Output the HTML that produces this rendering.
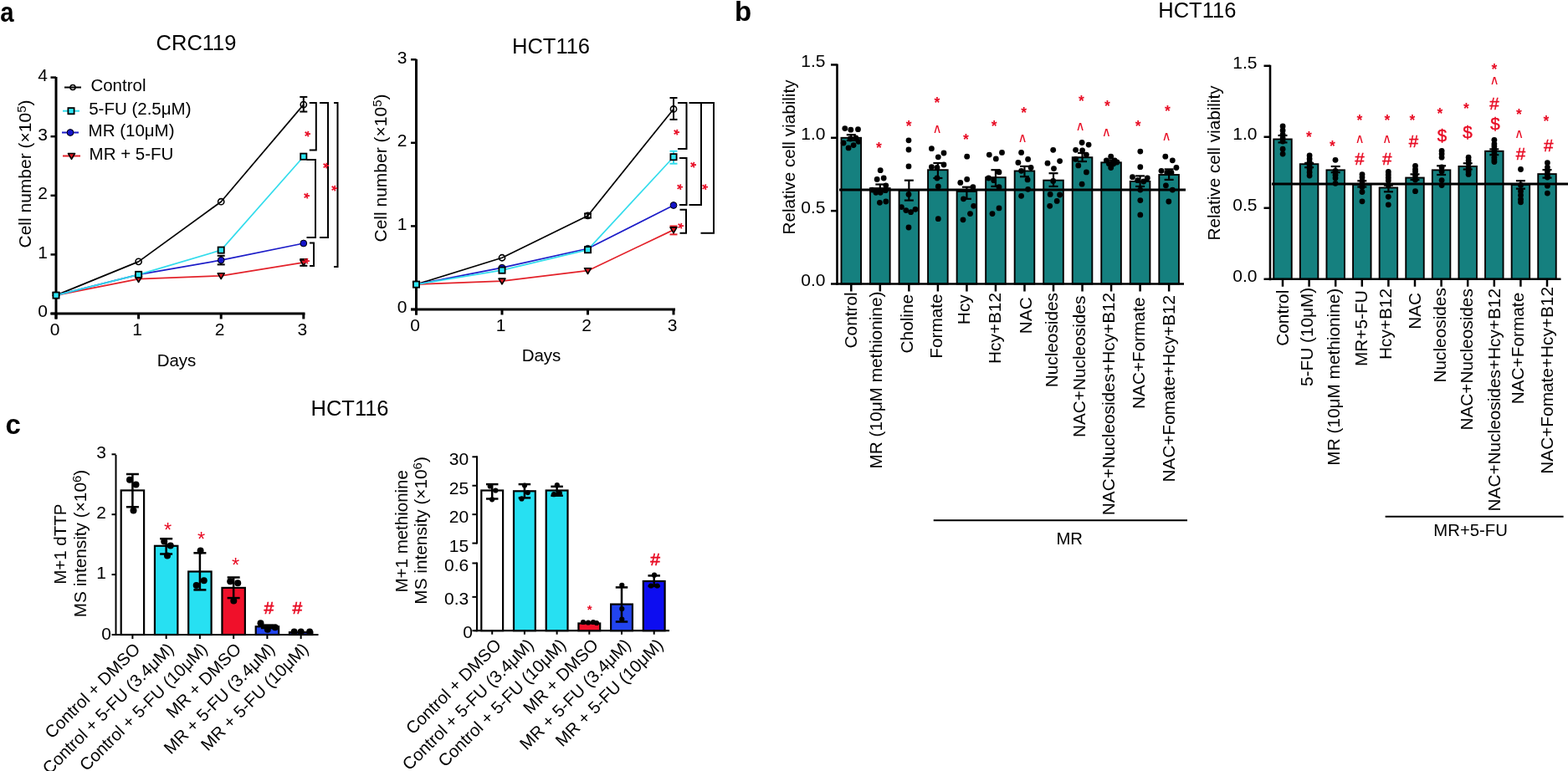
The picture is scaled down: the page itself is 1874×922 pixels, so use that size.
<!DOCTYPE html>
<html><head><meta charset="utf-8"><title>Figure</title>
<style>
html,body{margin:0;padding:0;background:#fff;}
body{width:1874px;height:922px;overflow:hidden;}
svg{display:block;}
svg text{font-family:"Liberation Sans", Arial, Helvetica, sans-serif;}
</style></head>
<body>
<svg width="1874" height="922" viewBox="0 0 1874 922">
<rect x="0" y="0" width="1874" height="922" fill="#fff"/>
<text x="0" y="0" font-size="33" font-weight="bold" transform="translate(0.2 25.6) scale(0.89 1)">a</text>
<text x="878" y="24.6" font-size="33" text-anchor="start" font-weight="bold" fill="#000">b</text>
<text x="6.5" y="519.2" font-size="33" text-anchor="start" font-weight="bold" fill="#000">c</text>
<text x="234.5" y="59.5" font-size="25.5" text-anchor="middle" font-weight="normal" fill="#000">CRC119</text>
<text x="658.5" y="64.2" font-size="25.5" text-anchor="middle" font-weight="normal" fill="#000">HCT116</text>
<text x="1430.8" y="20.5" font-size="25.5" text-anchor="middle" font-weight="normal" fill="#000">HCT116</text>
<text x="418" y="497.4" font-size="25.5" text-anchor="middle" font-weight="normal" fill="#000">HCT116</text>
<line x1="67" y1="92.1" x2="67" y2="381.5" stroke="#000" stroke-width="3" stroke-linecap="butt"/>
<line x1="60.5" y1="375" x2="364.5" y2="375" stroke="#000" stroke-width="3" stroke-linecap="butt"/>
<line x1="60.5" y1="375" x2="67" y2="375" stroke="#000" stroke-width="2.5" stroke-linecap="butt"/>
<text x="57" y="379.3" font-size="21" text-anchor="end" font-weight="normal" fill="#000">0</text>
<line x1="60.5" y1="304.4" x2="67" y2="304.4" stroke="#000" stroke-width="2.5" stroke-linecap="butt"/>
<text x="57" y="308.7" font-size="21" text-anchor="end" font-weight="normal" fill="#000">1</text>
<line x1="60.5" y1="233.8" x2="67" y2="233.8" stroke="#000" stroke-width="2.5" stroke-linecap="butt"/>
<text x="57" y="238.1" font-size="21" text-anchor="end" font-weight="normal" fill="#000">2</text>
<line x1="60.5" y1="163.2" x2="67" y2="163.2" stroke="#000" stroke-width="2.5" stroke-linecap="butt"/>
<text x="57" y="167.5" font-size="21" text-anchor="end" font-weight="normal" fill="#000">3</text>
<line x1="60.5" y1="92.6" x2="67" y2="92.6" stroke="#000" stroke-width="2.5" stroke-linecap="butt"/>
<text x="57" y="96.9" font-size="21" text-anchor="end" font-weight="normal" fill="#000">4</text>
<line x1="67" y1="375" x2="67" y2="381.5" stroke="#000" stroke-width="3" stroke-linecap="butt"/>
<text x="65.5" y="401.2" font-size="21" text-anchor="middle" font-weight="normal" fill="#000">0</text>
<line x1="165.6" y1="375" x2="165.6" y2="381.5" stroke="#000" stroke-width="3" stroke-linecap="butt"/>
<text x="164.1" y="401.2" font-size="21" text-anchor="middle" font-weight="normal" fill="#000">1</text>
<line x1="264.2" y1="375" x2="264.2" y2="381.5" stroke="#000" stroke-width="3" stroke-linecap="butt"/>
<text x="262.7" y="401.2" font-size="21" text-anchor="middle" font-weight="normal" fill="#000">2</text>
<line x1="362.8" y1="375" x2="362.8" y2="381.5" stroke="#000" stroke-width="3" stroke-linecap="butt"/>
<text x="361.3" y="401.2" font-size="21" text-anchor="middle" font-weight="normal" fill="#000">3</text>
<text x="211" y="438" font-size="20.5" text-anchor="middle" font-weight="normal" fill="#000">Days</text>
<text x="37" y="208" font-size="21" text-anchor="middle" transform="rotate(-90 37 208)">Cell number (×10<tspan font-size="15" dy="-6">5</tspan><tspan dy="6">)</tspan></text>
<polyline points="67,353.11 165.6,312.87 264.2,241.21 362.8,125.08" fill="none" stroke="#000" stroke-width="1.7" stroke-linejoin="round"/>
<polyline points="67,353.11 165.6,333.7 264.2,329.82 362.8,313.93" fill="none" stroke="#e3222a" stroke-width="1.7" stroke-linejoin="round"/>
<polyline points="67,353.11 165.6,328.4 264.2,311.11 362.8,290.99" fill="none" stroke="#1c1cc8" stroke-width="1.7" stroke-linejoin="round"/>
<polyline points="67,353.11 165.6,328.4 264.2,299.11 362.8,187.2" fill="none" stroke="#33dcec" stroke-width="1.7" stroke-linejoin="round"/>
<line x1="362.8" y1="115.9" x2="362.8" y2="133.55" stroke="#000" stroke-width="2" stroke-linecap="butt"/>
<line x1="358.3" y1="115.9" x2="367.3" y2="115.9" stroke="#000" stroke-width="2" stroke-linecap="butt"/>
<line x1="358.3" y1="133.55" x2="367.3" y2="133.55" stroke="#000" stroke-width="2" stroke-linecap="butt"/>
<line x1="264.2" y1="305.81" x2="264.2" y2="316.4" stroke="#000" stroke-width="2" stroke-linecap="butt"/>
<line x1="259.7" y1="305.81" x2="268.7" y2="305.81" stroke="#000" stroke-width="2" stroke-linecap="butt"/>
<line x1="259.7" y1="316.4" x2="268.7" y2="316.4" stroke="#000" stroke-width="2" stroke-linecap="butt"/>
<line x1="362.8" y1="310.05" x2="362.8" y2="317.81" stroke="#000" stroke-width="2" stroke-linecap="butt"/>
<line x1="358.3" y1="310.05" x2="367.3" y2="310.05" stroke="#000" stroke-width="2" stroke-linecap="butt"/>
<line x1="358.3" y1="317.81" x2="367.3" y2="317.81" stroke="#000" stroke-width="2" stroke-linecap="butt"/>
<polygon points="63,350.11 71,350.11 67,356.91" fill="#d81820" stroke="#000" stroke-width="1.6" stroke-linejoin="round"/>
<polygon points="161.6,330.7 169.6,330.7 165.6,337.5" fill="#d81820" stroke="#000" stroke-width="1.6" stroke-linejoin="round"/>
<polygon points="260.2,326.82 268.2,326.82 264.2,333.62" fill="#d81820" stroke="#000" stroke-width="1.6" stroke-linejoin="round"/>
<polygon points="358.8,310.93 366.8,310.93 362.8,317.73" fill="#d81820" stroke="#000" stroke-width="1.6" stroke-linejoin="round"/>
<circle cx="67" cy="353.11" r="3.6" fill="none" stroke="#000" stroke-width="1.6"/>
<circle cx="165.6" cy="312.87" r="3.6" fill="none" stroke="#000" stroke-width="1.6"/>
<circle cx="264.2" cy="241.21" r="3.6" fill="none" stroke="#000" stroke-width="1.6"/>
<circle cx="362.8" cy="125.08" r="3.6" fill="none" stroke="#000" stroke-width="1.6"/>
<circle cx="67" cy="353.11" r="3.9" fill="#1414c8" stroke="#000" stroke-width="1"/>
<circle cx="165.6" cy="328.4" r="3.9" fill="#1414c8" stroke="#000" stroke-width="1"/>
<circle cx="264.2" cy="311.11" r="3.9" fill="#1414c8" stroke="#000" stroke-width="1"/>
<circle cx="362.8" cy="290.99" r="3.9" fill="#1414c8" stroke="#000" stroke-width="1"/>
<rect x="63.4" y="349.51" width="7.2" height="7.2" fill="#2ee6f4" stroke="#000" stroke-width="1.8"/>
<rect x="162" y="324.8" width="7.2" height="7.2" fill="#2ee6f4" stroke="#000" stroke-width="1.8"/>
<rect x="260.6" y="295.5" width="7.2" height="7.2" fill="#2ee6f4" stroke="#000" stroke-width="1.8"/>
<rect x="359.2" y="183.6" width="7.2" height="7.2" fill="#2ee6f4" stroke="#000" stroke-width="1.8"/>
<polyline points="369.8,123 377.8,123 377.8,179.5 369.8,179.5" fill="none" stroke="#000" stroke-width="2" stroke-linejoin="miter"/>
<polyline points="366.5,191 377,191 377,284 366.5,284" fill="none" stroke="#000" stroke-width="2" stroke-linejoin="miter"/>
<polyline points="382,123 392,123 392,284 382,284" fill="none" stroke="#000" stroke-width="2" stroke-linejoin="miter"/>
<polyline points="399,123 403.5,123 403.5,319 399,319" fill="none" stroke="#000" stroke-width="2" stroke-linejoin="miter"/>
<polyline points="370,290.5 375,290.5 375,318 370,318" fill="none" stroke="#000" stroke-width="2" stroke-linejoin="miter"/>
<text x="0" y="9.29" font-size="18.5" font-weight="bold" text-anchor="middle" fill="#e80c24" transform="translate(367.5 160) rotate(90)">*</text>
<text x="0" y="9.29" font-size="18.5" font-weight="bold" text-anchor="middle" fill="#e80c24" transform="translate(366 234) rotate(90)">*</text>
<text x="0" y="9.29" font-size="18.5" font-weight="bold" text-anchor="middle" fill="#e80c24" transform="translate(389 198) rotate(90)">*</text>
<text x="0" y="9.29" font-size="18.5" font-weight="bold" text-anchor="middle" fill="#e80c24" transform="translate(399 225) rotate(90)">*</text>
<text x="0" y="9.29" font-size="18.5" font-weight="bold" text-anchor="middle" fill="#e80c24" transform="translate(366 312) rotate(90)">*</text>
<line x1="77" y1="104.5" x2="97" y2="104.5" stroke="#000" stroke-width="2" stroke-linecap="butt"/>
<circle cx="87" cy="104.5" r="3" fill="none" stroke="#000" stroke-width="1.6"/>
<text x="108.4" y="108.9" font-size="20.5" text-anchor="start" font-weight="normal" fill="#000">Control</text>
<line x1="75" y1="132.7" x2="95" y2="132.7" stroke="#33dcec" stroke-width="2" stroke-linecap="butt"/>
<rect x="81.4" y="129.1" width="7.2" height="7.2" fill="#2ee6f4" stroke="#000" stroke-width="1.8"/>
<text x="106.2" y="137.1" font-size="20.5" text-anchor="start" font-weight="normal" fill="#000">5-FU (2.5μM)</text>
<line x1="74" y1="158.5" x2="94" y2="158.5" stroke="#1c1cc8" stroke-width="2" stroke-linecap="butt"/>
<circle cx="84" cy="158.5" r="3.9" fill="#1414c8" stroke="#000" stroke-width="1"/>
<text x="105.6" y="162.9" font-size="20.5" text-anchor="start" font-weight="normal" fill="#000">MR (10μM)</text>
<line x1="75" y1="186.5" x2="96" y2="186.5" stroke="#e3222a" stroke-width="2" stroke-linecap="butt"/>
<polygon points="81.5,183.5 89.5,183.5 85.5,190.3" fill="#d81820" stroke="#000" stroke-width="1.6" stroke-linejoin="round"/>
<text x="106.6" y="190.9" font-size="20.5" text-anchor="start" font-weight="normal" fill="#000">MR + 5-FU</text>
<line x1="497.5" y1="70.7" x2="497.5" y2="376.5" stroke="#000" stroke-width="3" stroke-linecap="butt"/>
<line x1="491" y1="370" x2="807" y2="370" stroke="#000" stroke-width="3" stroke-linecap="butt"/>
<line x1="491" y1="370" x2="497.5" y2="370" stroke="#000" stroke-width="2.5" stroke-linecap="butt"/>
<text x="486.5" y="374.3" font-size="21" text-anchor="end" font-weight="normal" fill="#000">0</text>
<line x1="491" y1="270.4" x2="497.5" y2="270.4" stroke="#000" stroke-width="2.5" stroke-linecap="butt"/>
<text x="486.5" y="274.7" font-size="21" text-anchor="end" font-weight="normal" fill="#000">1</text>
<line x1="491" y1="170.8" x2="497.5" y2="170.8" stroke="#000" stroke-width="2.5" stroke-linecap="butt"/>
<text x="486.5" y="175.1" font-size="21" text-anchor="end" font-weight="normal" fill="#000">2</text>
<line x1="491" y1="71.2" x2="497.5" y2="71.2" stroke="#000" stroke-width="2.5" stroke-linecap="butt"/>
<text x="486.5" y="75.5" font-size="21" text-anchor="end" font-weight="normal" fill="#000">3</text>
<line x1="497.5" y1="370" x2="497.5" y2="376.5" stroke="#000" stroke-width="3" stroke-linecap="butt"/>
<text x="496" y="396.2" font-size="21" text-anchor="middle" font-weight="normal" fill="#000">0</text>
<line x1="600" y1="370" x2="600" y2="376.5" stroke="#000" stroke-width="3" stroke-linecap="butt"/>
<text x="598.5" y="396.2" font-size="21" text-anchor="middle" font-weight="normal" fill="#000">1</text>
<line x1="702.5" y1="370" x2="702.5" y2="376.5" stroke="#000" stroke-width="3" stroke-linecap="butt"/>
<text x="701" y="396.2" font-size="21" text-anchor="middle" font-weight="normal" fill="#000">2</text>
<line x1="805" y1="370" x2="805" y2="376.5" stroke="#000" stroke-width="3" stroke-linecap="butt"/>
<text x="803.5" y="396.2" font-size="21" text-anchor="middle" font-weight="normal" fill="#000">3</text>
<text x="647" y="432" font-size="20.5" text-anchor="middle" font-weight="normal" fill="#000">Days</text>
<text x="462.3" y="201" font-size="21" text-anchor="middle" transform="rotate(-90 462.3 201)">Cell number (×10<tspan font-size="15" dy="-6">5</tspan><tspan dy="6">)</tspan></text>
<polyline points="497.5,340.12 600,308.25 702.5,257.95 805,130.46" fill="none" stroke="#000" stroke-width="1.7" stroke-linejoin="round"/>
<polyline points="497.5,340.12 600,336.14 702.5,323.69 805,274.88" fill="none" stroke="#e3222a" stroke-width="1.7" stroke-linejoin="round"/>
<polyline points="497.5,340.12 600,320.2 702.5,297.29 805,245.5" fill="none" stroke="#1c1cc8" stroke-width="1.7" stroke-linejoin="round"/>
<polyline points="497.5,340.12 600,323.19 702.5,298.69 805,187.73" fill="none" stroke="#33dcec" stroke-width="1.7" stroke-linejoin="round"/>
<line x1="805" y1="117.02" x2="805" y2="142.91" stroke="#000" stroke-width="2" stroke-linecap="butt"/>
<line x1="800.5" y1="117.02" x2="809.5" y2="117.02" stroke="#000" stroke-width="2" stroke-linecap="butt"/>
<line x1="800.5" y1="142.91" x2="809.5" y2="142.91" stroke="#000" stroke-width="2" stroke-linecap="butt"/>
<line x1="805" y1="180.76" x2="805" y2="195.7" stroke="#33dcec" stroke-width="2" stroke-linecap="butt"/>
<line x1="800.5" y1="180.76" x2="809.5" y2="180.76" stroke="#33dcec" stroke-width="2" stroke-linecap="butt"/>
<line x1="800.5" y1="195.7" x2="809.5" y2="195.7" stroke="#33dcec" stroke-width="2" stroke-linecap="butt"/>
<line x1="805" y1="270.4" x2="805" y2="280.36" stroke="#e3222a" stroke-width="2" stroke-linecap="butt"/>
<line x1="800.5" y1="270.4" x2="809.5" y2="270.4" stroke="#e3222a" stroke-width="2" stroke-linecap="butt"/>
<line x1="800.5" y1="280.36" x2="809.5" y2="280.36" stroke="#e3222a" stroke-width="2" stroke-linecap="butt"/>
<line x1="702.5" y1="255.46" x2="702.5" y2="260.44" stroke="#000" stroke-width="2" stroke-linecap="butt"/>
<line x1="698" y1="255.46" x2="707" y2="255.46" stroke="#000" stroke-width="2" stroke-linecap="butt"/>
<line x1="698" y1="260.44" x2="707" y2="260.44" stroke="#000" stroke-width="2" stroke-linecap="butt"/>
<polygon points="493.5,337.12 501.5,337.12 497.5,343.92" fill="#d81820" stroke="#000" stroke-width="1.6" stroke-linejoin="round"/>
<polygon points="596,333.14 604,333.14 600,339.94" fill="#d81820" stroke="#000" stroke-width="1.6" stroke-linejoin="round"/>
<polygon points="698.5,320.69 706.5,320.69 702.5,327.49" fill="#d81820" stroke="#000" stroke-width="1.6" stroke-linejoin="round"/>
<polygon points="801,271.88 809,271.88 805,278.68" fill="#d81820" stroke="#000" stroke-width="1.6" stroke-linejoin="round"/>
<circle cx="497.5" cy="340.12" r="3.6" fill="none" stroke="#000" stroke-width="1.6"/>
<circle cx="600" cy="308.25" r="3.6" fill="none" stroke="#000" stroke-width="1.6"/>
<circle cx="702.5" cy="257.95" r="3.6" fill="none" stroke="#000" stroke-width="1.6"/>
<circle cx="805" cy="130.46" r="3.6" fill="none" stroke="#000" stroke-width="1.6"/>
<circle cx="497.5" cy="340.12" r="3.9" fill="#1414c8" stroke="#000" stroke-width="1"/>
<circle cx="600" cy="320.2" r="3.9" fill="#1414c8" stroke="#000" stroke-width="1"/>
<circle cx="702.5" cy="297.29" r="3.9" fill="#1414c8" stroke="#000" stroke-width="1"/>
<circle cx="805" cy="245.5" r="3.9" fill="#1414c8" stroke="#000" stroke-width="1"/>
<rect x="493.9" y="336.52" width="7.2" height="7.2" fill="#2ee6f4" stroke="#000" stroke-width="1.8"/>
<rect x="596.4" y="319.59" width="7.2" height="7.2" fill="#2ee6f4" stroke="#000" stroke-width="1.8"/>
<rect x="698.9" y="295.09" width="7.2" height="7.2" fill="#2ee6f4" stroke="#000" stroke-width="1.8"/>
<rect x="801.4" y="184.13" width="7.2" height="7.2" fill="#2ee6f4" stroke="#000" stroke-width="1.8"/>
<polyline points="810,123 820.5,123 820.5,178 810,178" fill="none" stroke="#000" stroke-width="2" stroke-linejoin="miter"/>
<polyline points="812,189 820.5,189 820.5,245 812,245" fill="none" stroke="#000" stroke-width="2" stroke-linejoin="miter"/>
<polyline points="823.5,123 838,123 838,245 823.5,245" fill="none" stroke="#000" stroke-width="2" stroke-linejoin="miter"/>
<polyline points="837.5,123 853,123 853,278.7 837.5,278.7" fill="none" stroke="#000" stroke-width="2" stroke-linejoin="miter"/>
<polyline points="812.5,250.7 820,250.7 820,278.7 812.5,278.7" fill="none" stroke="#000" stroke-width="2" stroke-linejoin="miter"/>
<text x="0" y="9.29" font-size="18.5" font-weight="bold" text-anchor="middle" fill="#e80c24" transform="translate(808.7 158) rotate(90)">*</text>
<text x="0" y="9.29" font-size="18.5" font-weight="bold" text-anchor="middle" fill="#e80c24" transform="translate(828.7 197) rotate(90)">*</text>
<text x="0" y="9.29" font-size="18.5" font-weight="bold" text-anchor="middle" fill="#e80c24" transform="translate(812.5 223.7) rotate(90)">*</text>
<text x="0" y="9.29" font-size="18.5" font-weight="bold" text-anchor="middle" fill="#e80c24" transform="translate(842.5 223.7) rotate(90)">*</text>
<text x="0" y="9.29" font-size="18.5" font-weight="bold" text-anchor="middle" fill="#e80c24" transform="translate(813 270) rotate(90)">*</text>
<rect x="1005.5" y="164.8" width="23.6" height="174.7" fill="#15807f" stroke="#000" stroke-width="1.9"/>
<rect x="1040.03" y="225.07" width="23.6" height="114.43" fill="#15807f" stroke="#000" stroke-width="1.9"/>
<rect x="1074.56" y="227.69" width="23.6" height="111.81" fill="#15807f" stroke="#000" stroke-width="1.9"/>
<rect x="1109.09" y="203.23" width="23.6" height="136.27" fill="#15807f" stroke="#000" stroke-width="1.9"/>
<rect x="1143.62" y="228.91" width="23.6" height="110.59" fill="#15807f" stroke="#000" stroke-width="1.9"/>
<rect x="1178.15" y="212.14" width="23.6" height="127.36" fill="#15807f" stroke="#000" stroke-width="1.9"/>
<rect x="1212.68" y="204.46" width="23.6" height="135.04" fill="#15807f" stroke="#000" stroke-width="1.9"/>
<rect x="1247.21" y="215.64" width="23.6" height="123.86" fill="#15807f" stroke="#000" stroke-width="1.9"/>
<rect x="1281.74" y="188.21" width="23.6" height="151.29" fill="#15807f" stroke="#000" stroke-width="1.9"/>
<rect x="1316.27" y="194.32" width="23.6" height="145.18" fill="#15807f" stroke="#000" stroke-width="1.9"/>
<rect x="1350.8" y="216.86" width="23.6" height="122.64" fill="#15807f" stroke="#000" stroke-width="1.9"/>
<rect x="1385.33" y="209" width="23.6" height="130.5" fill="#15807f" stroke="#000" stroke-width="1.9"/>
<circle cx="1009.8" cy="153.6" r="3.4" fill="#000" stroke="none" stroke-width="0"/>
<circle cx="1016.8" cy="155.2" r="3.4" fill="#000" stroke="none" stroke-width="0"/>
<circle cx="1025.5" cy="154.7" r="3.4" fill="#000" stroke="none" stroke-width="0"/>
<circle cx="1008.1" cy="171" r="3.4" fill="#000" stroke="none" stroke-width="0"/>
<circle cx="1014.1" cy="176.9" r="3.4" fill="#000" stroke="none" stroke-width="0"/>
<circle cx="1020.1" cy="173.6" r="3.4" fill="#000" stroke="none" stroke-width="0"/>
<circle cx="1026" cy="169.3" r="3.4" fill="#000" stroke="none" stroke-width="0"/>
<circle cx="1016.3" cy="166" r="3.4" fill="#000" stroke="none" stroke-width="0"/>
<circle cx="1022.8" cy="165" r="3.4" fill="#000" stroke="none" stroke-width="0"/>
<circle cx="1052.2" cy="203.7" r="3.4" fill="#000" stroke="none" stroke-width="0"/>
<circle cx="1048.2" cy="214.4" r="3.4" fill="#000" stroke="none" stroke-width="0"/>
<circle cx="1056.2" cy="213" r="3.4" fill="#000" stroke="none" stroke-width="0"/>
<circle cx="1058.8" cy="221.8" r="3.4" fill="#000" stroke="none" stroke-width="0"/>
<circle cx="1042.3" cy="227.1" r="3.4" fill="#000" stroke="none" stroke-width="0"/>
<circle cx="1046.9" cy="230.3" r="3.4" fill="#000" stroke="none" stroke-width="0"/>
<circle cx="1052.2" cy="230.3" r="3.4" fill="#000" stroke="none" stroke-width="0"/>
<circle cx="1058.3" cy="227.7" r="3.4" fill="#000" stroke="none" stroke-width="0"/>
<circle cx="1051.4" cy="242.3" r="3.4" fill="#000" stroke="none" stroke-width="0"/>
<circle cx="1058.8" cy="241" r="3.4" fill="#000" stroke="none" stroke-width="0"/>
<circle cx="1086" cy="167.8" r="3.4" fill="#000" stroke="none" stroke-width="0"/>
<circle cx="1086" cy="179" r="3.4" fill="#000" stroke="none" stroke-width="0"/>
<circle cx="1086" cy="198.9" r="3.4" fill="#000" stroke="none" stroke-width="0"/>
<circle cx="1086" cy="232.4" r="3.4" fill="#000" stroke="none" stroke-width="0"/>
<circle cx="1077.4" cy="247.6" r="3.4" fill="#000" stroke="none" stroke-width="0"/>
<circle cx="1082.8" cy="251.6" r="3.4" fill="#000" stroke="none" stroke-width="0"/>
<circle cx="1088.6" cy="253.7" r="3.4" fill="#000" stroke="none" stroke-width="0"/>
<circle cx="1094" cy="250.3" r="3.4" fill="#000" stroke="none" stroke-width="0"/>
<circle cx="1086" cy="272" r="3.4" fill="#000" stroke="none" stroke-width="0"/>
<circle cx="1113.4" cy="177.7" r="3.4" fill="#000" stroke="none" stroke-width="0"/>
<circle cx="1121.3" cy="187.8" r="3.4" fill="#000" stroke="none" stroke-width="0"/>
<circle cx="1128" cy="183" r="3.4" fill="#000" stroke="none" stroke-width="0"/>
<circle cx="1113.4" cy="199.7" r="3.4" fill="#000" stroke="none" stroke-width="0"/>
<circle cx="1120" cy="200.5" r="3.4" fill="#000" stroke="none" stroke-width="0"/>
<circle cx="1128" cy="197" r="3.4" fill="#000" stroke="none" stroke-width="0"/>
<circle cx="1120" cy="213" r="3.4" fill="#000" stroke="none" stroke-width="0"/>
<circle cx="1121.3" cy="222.9" r="3.4" fill="#000" stroke="none" stroke-width="0"/>
<circle cx="1121.3" cy="261.7" r="3.4" fill="#000" stroke="none" stroke-width="0"/>
<circle cx="1155.7" cy="187.2" r="3.4" fill="#000" stroke="none" stroke-width="0"/>
<circle cx="1147.8" cy="218.4" r="3.4" fill="#000" stroke="none" stroke-width="0"/>
<circle cx="1155.7" cy="214.4" r="3.4" fill="#000" stroke="none" stroke-width="0"/>
<circle cx="1162.9" cy="223.7" r="3.4" fill="#000" stroke="none" stroke-width="0"/>
<circle cx="1151.5" cy="237.8" r="3.4" fill="#000" stroke="none" stroke-width="0"/>
<circle cx="1163.7" cy="246.3" r="3.4" fill="#000" stroke="none" stroke-width="0"/>
<circle cx="1159.5" cy="255.6" r="3.4" fill="#000" stroke="none" stroke-width="0"/>
<circle cx="1151" cy="262.8" r="3.4" fill="#000" stroke="none" stroke-width="0"/>
<circle cx="1182.3" cy="185.1" r="3.4" fill="#000" stroke="none" stroke-width="0"/>
<circle cx="1190.3" cy="189.9" r="3.4" fill="#000" stroke="none" stroke-width="0"/>
<circle cx="1197.5" cy="182.4" r="3.4" fill="#000" stroke="none" stroke-width="0"/>
<circle cx="1194" cy="205.9" r="3.4" fill="#000" stroke="none" stroke-width="0"/>
<circle cx="1181.5" cy="213" r="3.4" fill="#000" stroke="none" stroke-width="0"/>
<circle cx="1187.7" cy="215.7" r="3.4" fill="#000" stroke="none" stroke-width="0"/>
<circle cx="1194" cy="223.7" r="3.4" fill="#000" stroke="none" stroke-width="0"/>
<circle cx="1186" cy="255.6" r="3.4" fill="#000" stroke="none" stroke-width="0"/>
<circle cx="1194" cy="248.9" r="3.4" fill="#000" stroke="none" stroke-width="0"/>
<circle cx="1220.6" cy="182.4" r="3.4" fill="#000" stroke="none" stroke-width="0"/>
<circle cx="1228.6" cy="190.4" r="3.4" fill="#000" stroke="none" stroke-width="0"/>
<circle cx="1216.9" cy="194.4" r="3.4" fill="#000" stroke="none" stroke-width="0"/>
<circle cx="1232.1" cy="200.5" r="3.4" fill="#000" stroke="none" stroke-width="0"/>
<circle cx="1220.6" cy="204.3" r="3.4" fill="#000" stroke="none" stroke-width="0"/>
<circle cx="1228.1" cy="214.9" r="3.4" fill="#000" stroke="none" stroke-width="0"/>
<circle cx="1228.6" cy="226.3" r="3.4" fill="#000" stroke="none" stroke-width="0"/>
<circle cx="1220.6" cy="234.3" r="3.4" fill="#000" stroke="none" stroke-width="0"/>
<circle cx="1258.7" cy="179.3" r="3.4" fill="#000" stroke="none" stroke-width="0"/>
<circle cx="1266.6" cy="192.6" r="3.4" fill="#000" stroke="none" stroke-width="0"/>
<circle cx="1252" cy="195.2" r="3.4" fill="#000" stroke="none" stroke-width="0"/>
<circle cx="1259.5" cy="201.6" r="3.4" fill="#000" stroke="none" stroke-width="0"/>
<circle cx="1258.7" cy="216.5" r="3.4" fill="#000" stroke="none" stroke-width="0"/>
<circle cx="1255.2" cy="232.4" r="3.4" fill="#000" stroke="none" stroke-width="0"/>
<circle cx="1266.6" cy="233" r="3.4" fill="#000" stroke="none" stroke-width="0"/>
<circle cx="1263.2" cy="240.4" r="3.4" fill="#000" stroke="none" stroke-width="0"/>
<circle cx="1254.7" cy="246.3" r="3.4" fill="#000" stroke="none" stroke-width="0"/>
<circle cx="1293.1" cy="170.5" r="3.4" fill="#000" stroke="none" stroke-width="0"/>
<circle cx="1301.1" cy="173.1" r="3.4" fill="#000" stroke="none" stroke-width="0"/>
<circle cx="1285.6" cy="179.3" r="3.4" fill="#000" stroke="none" stroke-width="0"/>
<circle cx="1293.6" cy="179.8" r="3.4" fill="#000" stroke="none" stroke-width="0"/>
<circle cx="1298.4" cy="185.1" r="3.4" fill="#000" stroke="none" stroke-width="0"/>
<circle cx="1285.6" cy="190.4" r="3.4" fill="#000" stroke="none" stroke-width="0"/>
<circle cx="1288.8" cy="197.9" r="3.4" fill="#000" stroke="none" stroke-width="0"/>
<circle cx="1298.4" cy="205.9" r="3.4" fill="#000" stroke="none" stroke-width="0"/>
<circle cx="1293.1" cy="220.2" r="3.4" fill="#000" stroke="none" stroke-width="0"/>
<circle cx="1327.7" cy="187.2" r="3.4" fill="#000" stroke="none" stroke-width="0"/>
<circle cx="1322.3" cy="191.8" r="3.4" fill="#000" stroke="none" stroke-width="0"/>
<circle cx="1332.2" cy="191.8" r="3.4" fill="#000" stroke="none" stroke-width="0"/>
<circle cx="1325.5" cy="195.7" r="3.4" fill="#000" stroke="none" stroke-width="0"/>
<circle cx="1330.5" cy="196" r="3.4" fill="#000" stroke="none" stroke-width="0"/>
<circle cx="1327.7" cy="200.5" r="3.4" fill="#000" stroke="none" stroke-width="0"/>
<circle cx="1335" cy="194" r="3.4" fill="#000" stroke="none" stroke-width="0"/>
<circle cx="1362.8" cy="181.1" r="3.4" fill="#000" stroke="none" stroke-width="0"/>
<circle cx="1362.8" cy="199.7" r="3.4" fill="#000" stroke="none" stroke-width="0"/>
<circle cx="1353.5" cy="211.7" r="3.4" fill="#000" stroke="none" stroke-width="0"/>
<circle cx="1371.3" cy="213" r="3.4" fill="#000" stroke="none" stroke-width="0"/>
<circle cx="1359.6" cy="215.7" r="3.4" fill="#000" stroke="none" stroke-width="0"/>
<circle cx="1366.8" cy="217" r="3.4" fill="#000" stroke="none" stroke-width="0"/>
<circle cx="1362.8" cy="227.1" r="3.4" fill="#000" stroke="none" stroke-width="0"/>
<circle cx="1362.8" cy="239.6" r="3.4" fill="#000" stroke="none" stroke-width="0"/>
<circle cx="1362.8" cy="256.9" r="3.4" fill="#000" stroke="none" stroke-width="0"/>
<circle cx="1392.8" cy="187.2" r="3.4" fill="#000" stroke="none" stroke-width="0"/>
<circle cx="1401.3" cy="191.8" r="3.4" fill="#000" stroke="none" stroke-width="0"/>
<circle cx="1405.9" cy="200.5" r="3.4" fill="#000" stroke="none" stroke-width="0"/>
<circle cx="1388" cy="204.3" r="3.4" fill="#000" stroke="none" stroke-width="0"/>
<circle cx="1394.7" cy="206.4" r="3.4" fill="#000" stroke="none" stroke-width="0"/>
<circle cx="1400" cy="206.4" r="3.4" fill="#000" stroke="none" stroke-width="0"/>
<circle cx="1393.4" cy="221.8" r="3.4" fill="#000" stroke="none" stroke-width="0"/>
<circle cx="1401.3" cy="227.1" r="3.4" fill="#000" stroke="none" stroke-width="0"/>
<circle cx="1396.8" cy="241" r="3.4" fill="#000" stroke="none" stroke-width="0"/>
<line x1="1017.3" y1="161.2" x2="1017.3" y2="168" stroke="#000" stroke-width="2.2" stroke-linecap="butt"/>
<line x1="1011.8" y1="161.2" x2="1022.8" y2="161.2" stroke="#000" stroke-width="2.2" stroke-linecap="butt"/>
<line x1="1011.8" y1="168" x2="1022.8" y2="168" stroke="#000" stroke-width="2.2" stroke-linecap="butt"/>
<line x1="1051.83" y1="220.5" x2="1051.83" y2="229" stroke="#000" stroke-width="2.2" stroke-linecap="butt"/>
<line x1="1046.33" y1="220.5" x2="1057.33" y2="220.5" stroke="#000" stroke-width="2.2" stroke-linecap="butt"/>
<line x1="1046.33" y1="229" x2="1057.33" y2="229" stroke="#000" stroke-width="2.2" stroke-linecap="butt"/>
<line x1="1086.36" y1="215.7" x2="1086.36" y2="239.6" stroke="#000" stroke-width="2.2" stroke-linecap="butt"/>
<line x1="1080.86" y1="215.7" x2="1091.86" y2="215.7" stroke="#000" stroke-width="2.2" stroke-linecap="butt"/>
<line x1="1080.86" y1="239.6" x2="1091.86" y2="239.6" stroke="#000" stroke-width="2.2" stroke-linecap="butt"/>
<line x1="1120.89" y1="195" x2="1120.89" y2="213" stroke="#000" stroke-width="2.2" stroke-linecap="butt"/>
<line x1="1115.39" y1="195" x2="1126.39" y2="195" stroke="#000" stroke-width="2.2" stroke-linecap="butt"/>
<line x1="1115.39" y1="213" x2="1126.39" y2="213" stroke="#000" stroke-width="2.2" stroke-linecap="butt"/>
<line x1="1155.42" y1="223.7" x2="1155.42" y2="237.8" stroke="#000" stroke-width="2.2" stroke-linecap="butt"/>
<line x1="1149.92" y1="223.7" x2="1160.92" y2="223.7" stroke="#000" stroke-width="2.2" stroke-linecap="butt"/>
<line x1="1149.92" y1="237.8" x2="1160.92" y2="237.8" stroke="#000" stroke-width="2.2" stroke-linecap="butt"/>
<line x1="1189.95" y1="203.2" x2="1189.95" y2="222.9" stroke="#000" stroke-width="2.2" stroke-linecap="butt"/>
<line x1="1184.45" y1="203.2" x2="1195.45" y2="203.2" stroke="#000" stroke-width="2.2" stroke-linecap="butt"/>
<line x1="1184.45" y1="222.9" x2="1195.45" y2="222.9" stroke="#000" stroke-width="2.2" stroke-linecap="butt"/>
<line x1="1224.48" y1="198.9" x2="1224.48" y2="211.2" stroke="#000" stroke-width="2.2" stroke-linecap="butt"/>
<line x1="1218.98" y1="198.9" x2="1229.98" y2="198.9" stroke="#000" stroke-width="2.2" stroke-linecap="butt"/>
<line x1="1218.98" y1="211.2" x2="1229.98" y2="211.2" stroke="#000" stroke-width="2.2" stroke-linecap="butt"/>
<line x1="1259.01" y1="207.2" x2="1259.01" y2="222.9" stroke="#000" stroke-width="2.2" stroke-linecap="butt"/>
<line x1="1253.51" y1="207.2" x2="1264.51" y2="207.2" stroke="#000" stroke-width="2.2" stroke-linecap="butt"/>
<line x1="1253.51" y1="222.9" x2="1264.51" y2="222.9" stroke="#000" stroke-width="2.2" stroke-linecap="butt"/>
<line x1="1293.54" y1="183" x2="1293.54" y2="193.1" stroke="#000" stroke-width="2.2" stroke-linecap="butt"/>
<line x1="1288.04" y1="183" x2="1299.04" y2="183" stroke="#000" stroke-width="2.2" stroke-linecap="butt"/>
<line x1="1288.04" y1="193.1" x2="1299.04" y2="193.1" stroke="#000" stroke-width="2.2" stroke-linecap="butt"/>
<line x1="1328.07" y1="191.5" x2="1328.07" y2="197" stroke="#000" stroke-width="2.2" stroke-linecap="butt"/>
<line x1="1322.57" y1="191.5" x2="1333.57" y2="191.5" stroke="#000" stroke-width="2.2" stroke-linecap="butt"/>
<line x1="1322.57" y1="197" x2="1333.57" y2="197" stroke="#000" stroke-width="2.2" stroke-linecap="butt"/>
<line x1="1362.6" y1="210.4" x2="1362.6" y2="222.9" stroke="#000" stroke-width="2.2" stroke-linecap="butt"/>
<line x1="1357.1" y1="210.4" x2="1368.1" y2="210.4" stroke="#000" stroke-width="2.2" stroke-linecap="butt"/>
<line x1="1357.1" y1="222.9" x2="1368.1" y2="222.9" stroke="#000" stroke-width="2.2" stroke-linecap="butt"/>
<line x1="1397.13" y1="202.4" x2="1397.13" y2="214.9" stroke="#000" stroke-width="2.2" stroke-linecap="butt"/>
<line x1="1391.63" y1="202.4" x2="1402.63" y2="202.4" stroke="#000" stroke-width="2.2" stroke-linecap="butt"/>
<line x1="1391.63" y1="214.9" x2="1402.63" y2="214.9" stroke="#000" stroke-width="2.2" stroke-linecap="butt"/>
<line x1="1003" y1="227" x2="1417" y2="227" stroke="#000" stroke-width="3" stroke-linecap="butt"/>
<line x1="1000.5" y1="76.45" x2="1000.5" y2="341" stroke="#000" stroke-width="2.6" stroke-linecap="butt"/>
<line x1="999.2" y1="339.5" x2="1415" y2="339.5" stroke="#000" stroke-width="2.4" stroke-linecap="butt"/>
<line x1="993" y1="339.5" x2="1000.5" y2="339.5" stroke="#000" stroke-width="2.5" stroke-linecap="butt"/>
<text x="986.5" y="342.1" font-size="21" text-anchor="end" font-weight="normal" fill="#000">0.0</text>
<line x1="993" y1="252.15" x2="1000.5" y2="252.15" stroke="#000" stroke-width="2.5" stroke-linecap="butt"/>
<text x="986.5" y="254.75" font-size="21" text-anchor="end" font-weight="normal" fill="#000">0.5</text>
<line x1="993" y1="164.8" x2="1000.5" y2="164.8" stroke="#000" stroke-width="2.5" stroke-linecap="butt"/>
<text x="986.5" y="167.4" font-size="21" text-anchor="end" font-weight="normal" fill="#000">1.0</text>
<line x1="993" y1="77.45" x2="1000.5" y2="77.45" stroke="#000" stroke-width="2.5" stroke-linecap="butt"/>
<text x="986.5" y="80.05" font-size="21" text-anchor="end" font-weight="normal" fill="#000">1.5</text>
<line x1="1017.3" y1="339.5" x2="1017.3" y2="348.5" stroke="#000" stroke-width="2.5" stroke-linecap="butt"/>
<text x="1023.7" y="349.4" font-size="20.8" text-anchor="end" transform="rotate(-90 1023.7 349.4)">Control</text>
<line x1="1051.83" y1="339.5" x2="1051.83" y2="348.5" stroke="#000" stroke-width="2.5" stroke-linecap="butt"/>
<text x="1054.5" y="348.6" font-size="20.8" text-anchor="end" transform="rotate(-90 1054.5 348.6)">MR (10μM methionine)</text>
<line x1="1086.36" y1="339.5" x2="1086.36" y2="348.5" stroke="#000" stroke-width="2.5" stroke-linecap="butt"/>
<text x="1091.5" y="351.9" font-size="20.8" text-anchor="end" transform="rotate(-90 1091.5 351.9)">Choline</text>
<line x1="1120.89" y1="339.5" x2="1120.89" y2="348.5" stroke="#000" stroke-width="2.5" stroke-linecap="butt"/>
<text x="1126.2" y="351.3" font-size="20.8" text-anchor="end" transform="rotate(-90 1126.2 351.3)">Formate</text>
<line x1="1155.42" y1="339.5" x2="1155.42" y2="348.5" stroke="#000" stroke-width="2.5" stroke-linecap="butt"/>
<text x="1158.7" y="352.3" font-size="20.8" text-anchor="end" transform="rotate(-90 1158.7 352.3)">Hcy</text>
<line x1="1189.95" y1="339.5" x2="1189.95" y2="348.5" stroke="#000" stroke-width="2.5" stroke-linecap="butt"/>
<text x="1195.7" y="350" font-size="20.8" text-anchor="end" transform="rotate(-90 1195.7 350)">Hcy+B12</text>
<line x1="1224.48" y1="339.5" x2="1224.48" y2="348.5" stroke="#000" stroke-width="2.5" stroke-linecap="butt"/>
<text x="1233.2" y="355.2" font-size="20.8" text-anchor="end" transform="rotate(-90 1233.2 355.2)">NAC</text>
<line x1="1259.01" y1="339.5" x2="1259.01" y2="348.5" stroke="#000" stroke-width="2.5" stroke-linecap="butt"/>
<text x="1264" y="350" font-size="20.8" text-anchor="end" transform="rotate(-90 1264 350)">Nucleosides</text>
<line x1="1293.54" y1="339.5" x2="1293.54" y2="348.5" stroke="#000" stroke-width="2.5" stroke-linecap="butt"/>
<text x="1297" y="353.7" font-size="20.8" text-anchor="end" transform="rotate(-90 1297 353.7)">NAC+Nucleosides</text>
<line x1="1328.07" y1="339.5" x2="1328.07" y2="348.5" stroke="#000" stroke-width="2.5" stroke-linecap="butt"/>
<text x="1332.1" y="349.8" font-size="20.8" text-anchor="end" transform="rotate(-90 1332.1 349.8)">NAC+Nucleosides+Hcy+B12</text>
<line x1="1362.6" y1="339.5" x2="1362.6" y2="348.5" stroke="#000" stroke-width="2.5" stroke-linecap="butt"/>
<text x="1367.6" y="355.5" font-size="20.8" text-anchor="end" transform="rotate(-90 1367.6 355.5)">NAC+Formate</text>
<line x1="1397.13" y1="339.5" x2="1397.13" y2="348.5" stroke="#000" stroke-width="2.5" stroke-linecap="butt"/>
<text x="1404.1" y="352.8" font-size="20.8" text-anchor="end" transform="rotate(-90 1404.1 352.8)">NAC+Fomate+Hcy+B12</text>
<text x="950" y="188" font-size="20.7" text-anchor="middle" transform="rotate(-90 950 188)">Relative cell viability</text>
<text x="0" y="8.79" font-size="17.5" font-weight="bold" text-anchor="middle" fill="#e80c24" transform="translate(1050.3 174) rotate(0)">*</text>
<text x="0" y="8.79" font-size="17.5" font-weight="bold" text-anchor="middle" fill="#e80c24" transform="translate(1086.2 147.9) rotate(0)">*</text>
<text x="0" y="8.79" font-size="17.5" font-weight="bold" text-anchor="middle" fill="#e80c24" transform="translate(1120 120) rotate(0)">*</text>
<text x="0" y="0" font-size="17" font-weight="bold" text-anchor="middle" fill="#e80c24" transform="translate(1120 154.5) scale(0.78 1.15) translate(0 7.98)">^</text>
<text x="0" y="8.79" font-size="17.5" font-weight="bold" text-anchor="middle" fill="#e80c24" transform="translate(1154.4 164.6) rotate(0)">*</text>
<text x="0" y="8.79" font-size="17.5" font-weight="bold" text-anchor="middle" fill="#e80c24" transform="translate(1188.2 147.9) rotate(0)">*</text>
<text x="0" y="8.79" font-size="17.5" font-weight="bold" text-anchor="middle" fill="#e80c24" transform="translate(1223.6 131.9) rotate(0)">*</text>
<text x="0" y="0" font-size="17" font-weight="bold" text-anchor="middle" fill="#e80c24" transform="translate(1222.2 166) scale(0.78 1.15) translate(0 7.98)">^</text>
<text x="0" y="8.79" font-size="17.5" font-weight="bold" text-anchor="middle" fill="#e80c24" transform="translate(1292.3 118.1) rotate(0)">*</text>
<text x="0" y="0" font-size="17" font-weight="bold" text-anchor="middle" fill="#e80c24" transform="translate(1291 151.9) scale(0.78 1.15) translate(0 7.98)">^</text>
<text x="0" y="8.79" font-size="17.5" font-weight="bold" text-anchor="middle" fill="#e80c24" transform="translate(1323.4 123.9) rotate(0)">*</text>
<text x="0" y="0" font-size="17" font-weight="bold" text-anchor="middle" fill="#e80c24" transform="translate(1322.3 159) scale(0.78 1.15) translate(0 7.98)">^</text>
<text x="0" y="8.79" font-size="17.5" font-weight="bold" text-anchor="middle" fill="#e80c24" transform="translate(1360.1 147.9) rotate(0)">*</text>
<text x="0" y="8.79" font-size="17.5" font-weight="bold" text-anchor="middle" fill="#e80c24" transform="translate(1395.5 129.8) rotate(0)">*</text>
<text x="0" y="0" font-size="17" font-weight="bold" text-anchor="middle" fill="#e80c24" transform="translate(1394.1 163.8) scale(0.78 1.15) translate(0 7.98)">^</text>
<rect x="1522.25" y="166.47" width="21.5" height="167.28" fill="#15807f" stroke="#000" stroke-width="1.9"/>
<rect x="1553.85" y="196.22" width="21.5" height="137.53" fill="#15807f" stroke="#000" stroke-width="1.9"/>
<rect x="1585.45" y="203.36" width="21.5" height="130.39" fill="#15807f" stroke="#000" stroke-width="1.9"/>
<rect x="1617.05" y="220.7" width="21.5" height="113.05" fill="#15807f" stroke="#000" stroke-width="1.9"/>
<rect x="1648.65" y="224.44" width="21.5" height="109.31" fill="#15807f" stroke="#000" stroke-width="1.9"/>
<rect x="1680.25" y="212.54" width="21.5" height="121.21" fill="#15807f" stroke="#000" stroke-width="1.9"/>
<rect x="1711.85" y="203.36" width="21.5" height="130.39" fill="#15807f" stroke="#000" stroke-width="1.9"/>
<rect x="1743.45" y="198.94" width="21.5" height="134.81" fill="#15807f" stroke="#000" stroke-width="1.9"/>
<rect x="1775.05" y="180.75" width="21.5" height="153" fill="#15807f" stroke="#000" stroke-width="1.9"/>
<rect x="1806.65" y="220.87" width="21.5" height="112.88" fill="#15807f" stroke="#000" stroke-width="1.9"/>
<rect x="1838.25" y="208.12" width="21.5" height="125.63" fill="#15807f" stroke="#000" stroke-width="1.9"/>
<circle cx="1533.1" cy="151" r="3.4" fill="#000" stroke="none" stroke-width="0"/>
<circle cx="1533.1" cy="156" r="3.4" fill="#000" stroke="none" stroke-width="0"/>
<circle cx="1533.1" cy="161" r="3.4" fill="#000" stroke="none" stroke-width="0"/>
<circle cx="1533.1" cy="165" r="3.4" fill="#000" stroke="none" stroke-width="0"/>
<circle cx="1533.1" cy="169" r="3.4" fill="#000" stroke="none" stroke-width="0"/>
<circle cx="1533.1" cy="178.2" r="3.4" fill="#000" stroke="none" stroke-width="0"/>
<circle cx="1533.1" cy="184.1" r="3.4" fill="#000" stroke="none" stroke-width="0"/>
<circle cx="1565.1" cy="186" r="3.4" fill="#000" stroke="none" stroke-width="0"/>
<circle cx="1565.1" cy="190" r="3.4" fill="#000" stroke="none" stroke-width="0"/>
<circle cx="1565.1" cy="194" r="3.4" fill="#000" stroke="none" stroke-width="0"/>
<circle cx="1565.1" cy="198" r="3.4" fill="#000" stroke="none" stroke-width="0"/>
<circle cx="1565.1" cy="202" r="3.4" fill="#000" stroke="none" stroke-width="0"/>
<circle cx="1565.1" cy="206" r="3.4" fill="#000" stroke="none" stroke-width="0"/>
<circle cx="1565.1" cy="210" r="3.4" fill="#000" stroke="none" stroke-width="0"/>
<circle cx="1596" cy="191.3" r="3.4" fill="#000" stroke="none" stroke-width="0"/>
<circle cx="1596" cy="204.4" r="3.4" fill="#000" stroke="none" stroke-width="0"/>
<circle cx="1596" cy="209.2" r="3.4" fill="#000" stroke="none" stroke-width="0"/>
<circle cx="1596" cy="213" r="3.4" fill="#000" stroke="none" stroke-width="0"/>
<circle cx="1596" cy="219.3" r="3.4" fill="#000" stroke="none" stroke-width="0"/>
<circle cx="1628" cy="208.6" r="3.4" fill="#000" stroke="none" stroke-width="0"/>
<circle cx="1628" cy="212" r="3.4" fill="#000" stroke="none" stroke-width="0"/>
<circle cx="1628" cy="216.3" r="3.4" fill="#000" stroke="none" stroke-width="0"/>
<circle cx="1628" cy="220" r="3.4" fill="#000" stroke="none" stroke-width="0"/>
<circle cx="1628" cy="223.5" r="3.4" fill="#000" stroke="none" stroke-width="0"/>
<circle cx="1628" cy="229.5" r="3.4" fill="#000" stroke="none" stroke-width="0"/>
<circle cx="1628" cy="240.8" r="3.4" fill="#000" stroke="none" stroke-width="0"/>
<circle cx="1659.3" cy="205.5" r="3.4" fill="#000" stroke="none" stroke-width="0"/>
<circle cx="1659.3" cy="209" r="3.4" fill="#000" stroke="none" stroke-width="0"/>
<circle cx="1659.3" cy="212.5" r="3.4" fill="#000" stroke="none" stroke-width="0"/>
<circle cx="1659.3" cy="216" r="3.4" fill="#000" stroke="none" stroke-width="0"/>
<circle cx="1659.3" cy="221.5" r="3.4" fill="#000" stroke="none" stroke-width="0"/>
<circle cx="1659.3" cy="235.3" r="3.4" fill="#000" stroke="none" stroke-width="0"/>
<circle cx="1659.3" cy="244.8" r="3.4" fill="#000" stroke="none" stroke-width="0"/>
<circle cx="1691.5" cy="198.3" r="3.4" fill="#000" stroke="none" stroke-width="0"/>
<circle cx="1691.5" cy="202.5" r="3.4" fill="#000" stroke="none" stroke-width="0"/>
<circle cx="1691.5" cy="205.5" r="3.4" fill="#000" stroke="none" stroke-width="0"/>
<circle cx="1691.5" cy="210" r="3.4" fill="#000" stroke="none" stroke-width="0"/>
<circle cx="1691.5" cy="215" r="3.4" fill="#000" stroke="none" stroke-width="0"/>
<circle cx="1691.5" cy="228.7" r="3.4" fill="#000" stroke="none" stroke-width="0"/>
<circle cx="1723.1" cy="180.4" r="3.4" fill="#000" stroke="none" stroke-width="0"/>
<circle cx="1723.1" cy="184" r="3.4" fill="#000" stroke="none" stroke-width="0"/>
<circle cx="1723.1" cy="188.2" r="3.4" fill="#000" stroke="none" stroke-width="0"/>
<circle cx="1723.1" cy="200" r="3.4" fill="#000" stroke="none" stroke-width="0"/>
<circle cx="1723.1" cy="205" r="3.4" fill="#000" stroke="none" stroke-width="0"/>
<circle cx="1723.1" cy="215.6" r="3.4" fill="#000" stroke="none" stroke-width="0"/>
<circle cx="1723.1" cy="221.6" r="3.4" fill="#000" stroke="none" stroke-width="0"/>
<circle cx="1755.1" cy="188.2" r="3.4" fill="#000" stroke="none" stroke-width="0"/>
<circle cx="1755.1" cy="192" r="3.4" fill="#000" stroke="none" stroke-width="0"/>
<circle cx="1755.1" cy="195.3" r="3.4" fill="#000" stroke="none" stroke-width="0"/>
<circle cx="1755.1" cy="200.1" r="3.4" fill="#000" stroke="none" stroke-width="0"/>
<circle cx="1755.1" cy="204.9" r="3.4" fill="#000" stroke="none" stroke-width="0"/>
<circle cx="1755.1" cy="208.4" r="3.4" fill="#000" stroke="none" stroke-width="0"/>
<circle cx="1785.9" cy="167.3" r="3.4" fill="#000" stroke="none" stroke-width="0"/>
<circle cx="1785.9" cy="172.1" r="3.4" fill="#000" stroke="none" stroke-width="0"/>
<circle cx="1785.9" cy="175" r="3.4" fill="#000" stroke="none" stroke-width="0"/>
<circle cx="1785.9" cy="178.4" r="3.4" fill="#000" stroke="none" stroke-width="0"/>
<circle cx="1785.9" cy="183" r="3.4" fill="#000" stroke="none" stroke-width="0"/>
<circle cx="1785.9" cy="188.2" r="3.4" fill="#000" stroke="none" stroke-width="0"/>
<circle cx="1785.9" cy="191.1" r="3.4" fill="#000" stroke="none" stroke-width="0"/>
<circle cx="1785.9" cy="193.5" r="3.4" fill="#000" stroke="none" stroke-width="0"/>
<circle cx="1817.5" cy="202.5" r="3.4" fill="#000" stroke="none" stroke-width="0"/>
<circle cx="1817.5" cy="221.5" r="3.4" fill="#000" stroke="none" stroke-width="0"/>
<circle cx="1817.5" cy="228.7" r="3.4" fill="#000" stroke="none" stroke-width="0"/>
<circle cx="1817.5" cy="233.5" r="3.4" fill="#000" stroke="none" stroke-width="0"/>
<circle cx="1817.5" cy="238.3" r="3.4" fill="#000" stroke="none" stroke-width="0"/>
<circle cx="1817.5" cy="241.8" r="3.4" fill="#000" stroke="none" stroke-width="0"/>
<circle cx="1849.4" cy="194.7" r="3.4" fill="#000" stroke="none" stroke-width="0"/>
<circle cx="1849.4" cy="200.1" r="3.4" fill="#000" stroke="none" stroke-width="0"/>
<circle cx="1849.4" cy="205" r="3.4" fill="#000" stroke="none" stroke-width="0"/>
<circle cx="1849.4" cy="209" r="3.4" fill="#000" stroke="none" stroke-width="0"/>
<circle cx="1849.4" cy="212" r="3.4" fill="#000" stroke="none" stroke-width="0"/>
<circle cx="1849.4" cy="222.2" r="3.4" fill="#000" stroke="none" stroke-width="0"/>
<circle cx="1849.4" cy="231.1" r="3.4" fill="#000" stroke="none" stroke-width="0"/>
<line x1="1533" y1="162" x2="1533" y2="170.4" stroke="#000" stroke-width="2.2" stroke-linecap="butt"/>
<line x1="1527.5" y1="162" x2="1538.5" y2="162" stroke="#000" stroke-width="2.2" stroke-linecap="butt"/>
<line x1="1527.5" y1="170.4" x2="1538.5" y2="170.4" stroke="#000" stroke-width="2.2" stroke-linecap="butt"/>
<line x1="1564.6" y1="194.9" x2="1564.6" y2="200.2" stroke="#000" stroke-width="2.2" stroke-linecap="butt"/>
<line x1="1559.1" y1="194.9" x2="1570.1" y2="194.9" stroke="#000" stroke-width="2.2" stroke-linecap="butt"/>
<line x1="1559.1" y1="200.2" x2="1570.1" y2="200.2" stroke="#000" stroke-width="2.2" stroke-linecap="butt"/>
<line x1="1596.2" y1="199" x2="1596.2" y2="206.2" stroke="#000" stroke-width="2.2" stroke-linecap="butt"/>
<line x1="1590.7" y1="199" x2="1601.7" y2="199" stroke="#000" stroke-width="2.2" stroke-linecap="butt"/>
<line x1="1590.7" y1="206.2" x2="1601.7" y2="206.2" stroke="#000" stroke-width="2.2" stroke-linecap="butt"/>
<line x1="1627.8" y1="216.3" x2="1627.8" y2="223.5" stroke="#000" stroke-width="2.2" stroke-linecap="butt"/>
<line x1="1622.3" y1="216.3" x2="1633.3" y2="216.3" stroke="#000" stroke-width="2.2" stroke-linecap="butt"/>
<line x1="1622.3" y1="223.5" x2="1633.3" y2="223.5" stroke="#000" stroke-width="2.2" stroke-linecap="butt"/>
<line x1="1659.4" y1="221.6" x2="1659.4" y2="229.3" stroke="#000" stroke-width="2.2" stroke-linecap="butt"/>
<line x1="1653.9" y1="221.6" x2="1664.9" y2="221.6" stroke="#000" stroke-width="2.2" stroke-linecap="butt"/>
<line x1="1653.9" y1="229.3" x2="1664.9" y2="229.3" stroke="#000" stroke-width="2.2" stroke-linecap="butt"/>
<line x1="1691" y1="208.4" x2="1691" y2="215" stroke="#000" stroke-width="2.2" stroke-linecap="butt"/>
<line x1="1685.5" y1="208.4" x2="1696.5" y2="208.4" stroke="#000" stroke-width="2.2" stroke-linecap="butt"/>
<line x1="1685.5" y1="215" x2="1696.5" y2="215" stroke="#000" stroke-width="2.2" stroke-linecap="butt"/>
<line x1="1722.6" y1="198.3" x2="1722.6" y2="209" stroke="#000" stroke-width="2.2" stroke-linecap="butt"/>
<line x1="1717.1" y1="198.3" x2="1728.1" y2="198.3" stroke="#000" stroke-width="2.2" stroke-linecap="butt"/>
<line x1="1717.1" y1="209" x2="1728.1" y2="209" stroke="#000" stroke-width="2.2" stroke-linecap="butt"/>
<line x1="1754.2" y1="195.3" x2="1754.2" y2="202.5" stroke="#000" stroke-width="2.2" stroke-linecap="butt"/>
<line x1="1748.7" y1="195.3" x2="1759.7" y2="195.3" stroke="#000" stroke-width="2.2" stroke-linecap="butt"/>
<line x1="1748.7" y1="202.5" x2="1759.7" y2="202.5" stroke="#000" stroke-width="2.2" stroke-linecap="butt"/>
<line x1="1785.8" y1="178.4" x2="1785.8" y2="185.2" stroke="#000" stroke-width="2.2" stroke-linecap="butt"/>
<line x1="1780.3" y1="178.4" x2="1791.3" y2="178.4" stroke="#000" stroke-width="2.2" stroke-linecap="butt"/>
<line x1="1780.3" y1="185.2" x2="1791.3" y2="185.2" stroke="#000" stroke-width="2.2" stroke-linecap="butt"/>
<line x1="1817.4" y1="216.2" x2="1817.4" y2="225.7" stroke="#000" stroke-width="2.2" stroke-linecap="butt"/>
<line x1="1811.9" y1="216.2" x2="1822.9" y2="216.2" stroke="#000" stroke-width="2.2" stroke-linecap="butt"/>
<line x1="1811.9" y1="225.7" x2="1822.9" y2="225.7" stroke="#000" stroke-width="2.2" stroke-linecap="butt"/>
<line x1="1849" y1="203.1" x2="1849" y2="212.6" stroke="#000" stroke-width="2.2" stroke-linecap="butt"/>
<line x1="1843.5" y1="203.1" x2="1854.5" y2="203.1" stroke="#000" stroke-width="2.2" stroke-linecap="butt"/>
<line x1="1843.5" y1="212.6" x2="1854.5" y2="212.6" stroke="#000" stroke-width="2.2" stroke-linecap="butt"/>
<line x1="1520" y1="220" x2="1874" y2="220" stroke="#000" stroke-width="3" stroke-linecap="butt"/>
<line x1="1518" y1="77.75" x2="1518" y2="335.25" stroke="#000" stroke-width="2.6" stroke-linecap="butt"/>
<line x1="1516.7" y1="333.75" x2="1865.5" y2="333.75" stroke="#000" stroke-width="2.4" stroke-linecap="butt"/>
<line x1="1510.5" y1="333.75" x2="1518" y2="333.75" stroke="#000" stroke-width="2.5" stroke-linecap="butt"/>
<text x="1502.5" y="337.15" font-size="21" text-anchor="end" font-weight="normal" fill="#000">0.0</text>
<line x1="1510.5" y1="248.75" x2="1518" y2="248.75" stroke="#000" stroke-width="2.5" stroke-linecap="butt"/>
<text x="1502.5" y="252.15" font-size="21" text-anchor="end" font-weight="normal" fill="#000">0.5</text>
<line x1="1510.5" y1="163.75" x2="1518" y2="163.75" stroke="#000" stroke-width="2.5" stroke-linecap="butt"/>
<text x="1502.5" y="167.15" font-size="21" text-anchor="end" font-weight="normal" fill="#000">1.0</text>
<line x1="1510.5" y1="78.75" x2="1518" y2="78.75" stroke="#000" stroke-width="2.5" stroke-linecap="butt"/>
<text x="1502.5" y="82.15" font-size="21" text-anchor="end" font-weight="normal" fill="#000">1.5</text>
<line x1="1533" y1="333.75" x2="1533" y2="342.75" stroke="#000" stroke-width="2.5" stroke-linecap="butt"/>
<text x="1540.5" y="346.7" font-size="20.8" text-anchor="end" transform="rotate(-90 1540.5 346.7)">Control</text>
<line x1="1564.6" y1="333.75" x2="1564.6" y2="342.75" stroke="#000" stroke-width="2.5" stroke-linecap="butt"/>
<text x="1569.3" y="343.7" font-size="20.8" text-anchor="end" transform="rotate(-90 1569.3 343.7)">5-FU (10μM)</text>
<line x1="1596.2" y1="333.75" x2="1596.2" y2="342.75" stroke="#000" stroke-width="2.5" stroke-linecap="butt"/>
<text x="1600.8" y="344.7" font-size="20.8" text-anchor="end" transform="rotate(-90 1600.8 344.7)">MR (10μM methionine)</text>
<line x1="1627.8" y1="333.75" x2="1627.8" y2="342.75" stroke="#000" stroke-width="2.5" stroke-linecap="butt"/>
<text x="1634.2" y="347.3" font-size="20.8" text-anchor="end" transform="rotate(-90 1634.2 347.3)">MR+5-FU</text>
<line x1="1659.4" y1="333.75" x2="1659.4" y2="342.75" stroke="#000" stroke-width="2.5" stroke-linecap="butt"/>
<text x="1663.1" y="345" font-size="20.8" text-anchor="end" transform="rotate(-90 1663.1 345)">Hcy+B12</text>
<line x1="1691" y1="333.75" x2="1691" y2="342.75" stroke="#000" stroke-width="2.5" stroke-linecap="butt"/>
<text x="1698.1" y="349.9" font-size="20.8" text-anchor="end" transform="rotate(-90 1698.1 349.9)">NAC</text>
<line x1="1722.6" y1="333.75" x2="1722.6" y2="342.75" stroke="#000" stroke-width="2.5" stroke-linecap="butt"/>
<text x="1728.4" y="344.2" font-size="20.8" text-anchor="end" transform="rotate(-90 1728.4 344.2)">Nucleosides</text>
<line x1="1754.2" y1="333.75" x2="1754.2" y2="342.75" stroke="#000" stroke-width="2.5" stroke-linecap="butt"/>
<text x="1760.4" y="345.2" font-size="20.8" text-anchor="end" transform="rotate(-90 1760.4 345.2)">NAC+Nucleosides</text>
<line x1="1785.8" y1="333.75" x2="1785.8" y2="342.75" stroke="#000" stroke-width="2.5" stroke-linecap="butt"/>
<text x="1792.6" y="345" font-size="20.8" text-anchor="end" transform="rotate(-90 1792.6 345)">NAC+Nucleosides+Hcy+B12</text>
<line x1="1817.4" y1="333.75" x2="1817.4" y2="342.75" stroke="#000" stroke-width="2.5" stroke-linecap="butt"/>
<text x="1820.8" y="349.8" font-size="20.8" text-anchor="end" transform="rotate(-90 1820.8 349.8)">NAC+Formate</text>
<line x1="1849" y1="333.75" x2="1849" y2="342.75" stroke="#000" stroke-width="2.5" stroke-linecap="butt"/>
<text x="1855.9" y="343" font-size="20.8" text-anchor="end" transform="rotate(-90 1855.9 343)">NAC+Fomate+Hcy+B12</text>
<text x="1457.5" y="195" font-size="20.7" text-anchor="middle" transform="rotate(-90 1457.5 195)">Relative cell viability</text>
<text x="0" y="8.79" font-size="17.5" font-weight="bold" text-anchor="middle" fill="#e80c24" transform="translate(1564.4 161) rotate(0)">*</text>
<text x="0" y="8.79" font-size="17.5" font-weight="bold" text-anchor="middle" fill="#e80c24" transform="translate(1592.5 172.7) rotate(0)">*</text>
<text x="0" y="8.79" font-size="17.5" font-weight="bold" text-anchor="middle" fill="#e80c24" transform="translate(1625 141) rotate(0)">*</text>
<text x="0" y="0" font-size="17" font-weight="bold" text-anchor="middle" fill="#e80c24" transform="translate(1625 166.5) scale(0.78 1.15) translate(0 7.98)">^</text>
<text x="1625" y="197.41" font-size="20.5" text-anchor="middle" font-weight="normal" fill="#e80c24" stroke="#e80c24" stroke-width="0.45">#</text>
<text x="0" y="8.79" font-size="17.5" font-weight="bold" text-anchor="middle" fill="#e80c24" transform="translate(1658 141.4) rotate(0)">*</text>
<text x="0" y="0" font-size="17" font-weight="bold" text-anchor="middle" fill="#e80c24" transform="translate(1657.7 167.3) scale(0.78 1.15) translate(0 7.98)">^</text>
<text x="1657.7" y="197.01" font-size="20.5" text-anchor="middle" font-weight="normal" fill="#e80c24" stroke="#e80c24" stroke-width="0.45">#</text>
<text x="0" y="8.79" font-size="17.5" font-weight="bold" text-anchor="middle" fill="#e80c24" transform="translate(1688 141.4) rotate(0)">*</text>
<text x="1689.5" y="176.11" font-size="20.5" text-anchor="middle" font-weight="normal" fill="#e80c24" stroke="#e80c24" stroke-width="0.45">#</text>
<text x="0" y="8.79" font-size="17.5" font-weight="bold" text-anchor="middle" fill="#e80c24" transform="translate(1721 132.9) rotate(0)">*</text>
<text x="1723.5" y="169.38" font-size="20.5" text-anchor="middle" font-weight="normal" fill="#e80c24" stroke="#e80c24" stroke-width="0.45">$</text>
<text x="0" y="8.79" font-size="17.5" font-weight="bold" text-anchor="middle" fill="#e80c24" transform="translate(1752.5 127.4) rotate(0)">*</text>
<text x="1753.9" y="164.68" font-size="20.5" text-anchor="middle" font-weight="normal" fill="#e80c24" stroke="#e80c24" stroke-width="0.45">$</text>
<text x="0" y="8.79" font-size="17.5" font-weight="bold" text-anchor="middle" fill="#e80c24" transform="translate(1786 80.6) rotate(0)">*</text>
<text x="0" y="0" font-size="17" font-weight="bold" text-anchor="middle" fill="#e80c24" transform="translate(1786 97) scale(0.78 1.15) translate(0 7.98)">^</text>
<text x="1786" y="131.31" font-size="20.5" text-anchor="middle" font-weight="normal" fill="#e80c24" stroke="#e80c24" stroke-width="0.45">#</text>
<text x="1787" y="154.88" font-size="20.5" text-anchor="middle" font-weight="normal" fill="#e80c24" stroke="#e80c24" stroke-width="0.45">$</text>
<text x="0" y="8.79" font-size="17.5" font-weight="bold" text-anchor="middle" fill="#e80c24" transform="translate(1815.5 134.4) rotate(0)">*</text>
<text x="0" y="0" font-size="17" font-weight="bold" text-anchor="middle" fill="#e80c24" transform="translate(1815.7 160.7) scale(0.78 1.15) translate(0 7.98)">^</text>
<text x="1817.5" y="191.01" font-size="20.5" text-anchor="middle" font-weight="normal" fill="#e80c24" stroke="#e80c24" stroke-width="0.45">#</text>
<text x="0" y="8.79" font-size="17.5" font-weight="bold" text-anchor="middle" fill="#e80c24" transform="translate(1848 142.5) rotate(0)">*</text>
<text x="1850.6" y="181.41" font-size="20.5" text-anchor="middle" font-weight="normal" fill="#e80c24" stroke="#e80c24" stroke-width="0.45">#</text>
<line x1="1115.7" y1="622.2" x2="1419" y2="622.2" stroke="#000" stroke-width="2" stroke-linecap="butt"/>
<text x="1278.2" y="651" font-size="20.3" text-anchor="middle" font-weight="normal" fill="#000">MR</text>
<line x1="1655.6" y1="617.7" x2="1868.6" y2="617.7" stroke="#000" stroke-width="2" stroke-linecap="butt"/>
<text x="1757.6" y="640.8" font-size="20.3" text-anchor="middle" font-weight="normal" fill="#000">MR+5-FU</text>
<line x1="138.5" y1="544" x2="138.5" y2="760" stroke="#000" stroke-width="2" stroke-linecap="butt"/>
<line x1="134" y1="759" x2="380.5" y2="759" stroke="#000" stroke-width="2.2" stroke-linecap="butt"/>
<line x1="133.5" y1="759" x2="138.5" y2="759" stroke="#000" stroke-width="2" stroke-linecap="butt"/>
<text x="133" y="765.4" font-size="21" text-anchor="end" font-weight="normal" fill="#000">0</text>
<line x1="133.5" y1="687.1" x2="138.5" y2="687.1" stroke="#000" stroke-width="2" stroke-linecap="butt"/>
<text x="127" y="691.6" font-size="21" text-anchor="end" font-weight="normal" fill="#000">1</text>
<line x1="133.5" y1="615.2" x2="138.5" y2="615.2" stroke="#000" stroke-width="2" stroke-linecap="butt"/>
<text x="127" y="619.7" font-size="21" text-anchor="end" font-weight="normal" fill="#000">2</text>
<line x1="133.5" y1="543.3" x2="138.5" y2="543.3" stroke="#000" stroke-width="2" stroke-linecap="butt"/>
<text x="127" y="547.8" font-size="21" text-anchor="end" font-weight="normal" fill="#000">3</text>
<rect x="144.7" y="586.44" width="27.4" height="172.56" fill="#ffffff" stroke="#000" stroke-width="2.2"/>
<rect x="184.95" y="652.8" width="27.4" height="106.2" fill="#27e0f2" stroke="#000" stroke-width="2.2"/>
<rect x="225.2" y="683.5" width="27.4" height="75.5" fill="#27e0f2" stroke="#000" stroke-width="2.2"/>
<rect x="265.45" y="702.92" width="27.4" height="56.08" fill="#f0102a" stroke="#000" stroke-width="2.2"/>
<rect x="305.7" y="749.29" width="27.4" height="9.71" fill="#2244ee" stroke="#000" stroke-width="2.2"/>
<rect x="345.95" y="756.12" width="27.4" height="2.88" fill="#1a22cc" stroke="#000" stroke-width="2.2"/>
<circle cx="155" cy="573.75" r="4" fill="#000" stroke="none" stroke-width="0"/>
<circle cx="162.5" cy="579.5" r="4" fill="#000" stroke="none" stroke-width="0"/>
<circle cx="159.5" cy="610.5" r="4" fill="#000" stroke="none" stroke-width="0"/>
<circle cx="196.25" cy="647.5" r="4" fill="#000" stroke="none" stroke-width="0"/>
<circle cx="203.75" cy="652.5" r="4" fill="#000" stroke="none" stroke-width="0"/>
<circle cx="200" cy="664.5" r="4" fill="#000" stroke="none" stroke-width="0"/>
<circle cx="239.6" cy="658.5" r="4" fill="#000" stroke="none" stroke-width="0"/>
<circle cx="243.75" cy="694.3" r="4" fill="#000" stroke="none" stroke-width="0"/>
<circle cx="234.7" cy="699.9" r="4" fill="#000" stroke="none" stroke-width="0"/>
<circle cx="275.2" cy="695.2" r="4" fill="#000" stroke="none" stroke-width="0"/>
<circle cx="284.2" cy="697.3" r="4" fill="#000" stroke="none" stroke-width="0"/>
<circle cx="279.3" cy="718.4" r="4" fill="#000" stroke="none" stroke-width="0"/>
<circle cx="311.5" cy="745.3" r="4" fill="#000" stroke="none" stroke-width="0"/>
<circle cx="319.8" cy="752.8" r="4" fill="#000" stroke="none" stroke-width="0"/>
<circle cx="328.8" cy="750.2" r="4" fill="#000" stroke="none" stroke-width="0"/>
<circle cx="351.6" cy="755.4" r="4" fill="#000" stroke="none" stroke-width="0"/>
<circle cx="359.7" cy="755.4" r="4" fill="#000" stroke="none" stroke-width="0"/>
<circle cx="370.1" cy="755.4" r="4" fill="#000" stroke="none" stroke-width="0"/>
<line x1="158.4" y1="567" x2="158.4" y2="606.25" stroke="#000" stroke-width="2.5" stroke-linecap="butt"/>
<line x1="150.9" y1="567" x2="165.9" y2="567" stroke="#000" stroke-width="2.5" stroke-linecap="butt"/>
<line x1="150.9" y1="606.25" x2="165.9" y2="606.25" stroke="#000" stroke-width="2.5" stroke-linecap="butt"/>
<line x1="198.65" y1="644.25" x2="198.65" y2="662.5" stroke="#000" stroke-width="2.5" stroke-linecap="butt"/>
<line x1="191.15" y1="644.25" x2="206.15" y2="644.25" stroke="#000" stroke-width="2.5" stroke-linecap="butt"/>
<line x1="191.15" y1="662.5" x2="206.15" y2="662.5" stroke="#000" stroke-width="2.5" stroke-linecap="butt"/>
<line x1="238.9" y1="661.3" x2="238.9" y2="705.4" stroke="#000" stroke-width="2.5" stroke-linecap="butt"/>
<line x1="231.4" y1="661.3" x2="246.4" y2="661.3" stroke="#000" stroke-width="2.5" stroke-linecap="butt"/>
<line x1="231.4" y1="705.4" x2="246.4" y2="705.4" stroke="#000" stroke-width="2.5" stroke-linecap="butt"/>
<line x1="279.15" y1="690.5" x2="279.15" y2="715.1" stroke="#000" stroke-width="2.5" stroke-linecap="butt"/>
<line x1="271.65" y1="690.5" x2="286.65" y2="690.5" stroke="#000" stroke-width="2.5" stroke-linecap="butt"/>
<line x1="271.65" y1="715.1" x2="286.65" y2="715.1" stroke="#000" stroke-width="2.5" stroke-linecap="butt"/>
<line x1="319.4" y1="747.6" x2="319.4" y2="751" stroke="#000" stroke-width="2.5" stroke-linecap="butt"/>
<line x1="311.9" y1="747.6" x2="326.9" y2="747.6" stroke="#000" stroke-width="2.5" stroke-linecap="butt"/>
<line x1="311.9" y1="751" x2="326.9" y2="751" stroke="#000" stroke-width="2.5" stroke-linecap="butt"/>
<line x1="158.4" y1="759" x2="158.4" y2="764" stroke="#000" stroke-width="2" stroke-linecap="butt"/>
<line x1="198.65" y1="759" x2="198.65" y2="764" stroke="#000" stroke-width="2" stroke-linecap="butt"/>
<line x1="238.9" y1="759" x2="238.9" y2="764" stroke="#000" stroke-width="2" stroke-linecap="butt"/>
<line x1="279.15" y1="759" x2="279.15" y2="764" stroke="#000" stroke-width="2" stroke-linecap="butt"/>
<line x1="319.4" y1="759" x2="319.4" y2="764" stroke="#000" stroke-width="2" stroke-linecap="butt"/>
<line x1="359.65" y1="759" x2="359.65" y2="764" stroke="#000" stroke-width="2" stroke-linecap="butt"/>
<text x="79" y="650.7" font-size="20.5" text-anchor="middle" transform="rotate(-90 79 650.7)">M+1 dTTP</text>
<text x="103.1" y="650" font-size="20.8" text-anchor="middle" transform="rotate(-90 103.1 650)">MS intensity (×10<tspan font-size="15" dy="-6">6</tspan><tspan dy="6">)</tspan></text>
<text x="0" y="12.04" font-size="23.5" text-anchor="middle" fill="#e80c24" transform="translate(200.7 629.5) rotate(0)">*</text>
<text x="0" y="12.04" font-size="23.5" text-anchor="middle" fill="#e80c24" transform="translate(240.6 641.2) rotate(0)">*</text>
<text x="0" y="12.04" font-size="23.5" text-anchor="middle" fill="#e80c24" transform="translate(281.7 671.5) rotate(0)">*</text>
<text x="321.4" y="734.18" font-size="21" text-anchor="middle" font-weight="normal" fill="#e80c24" stroke="#e80c24" stroke-width="0.6">#</text>
<text x="355.3" y="734.18" font-size="21" text-anchor="middle" font-weight="normal" fill="#e80c24" stroke="#e80c24" stroke-width="0.6">#</text>
<text x="168.7" y="777.4" font-size="20.5" text-anchor="end" transform="rotate(-45 168.7 777.4)">Control + DMSO</text>
<text x="208.95" y="777.4" font-size="20.5" text-anchor="end" transform="rotate(-45 208.95 777.4)">Control + 5-FU (3.4μM)</text>
<text x="249.2" y="777.4" font-size="20.5" text-anchor="end" transform="rotate(-45 249.2 777.4)">Control + 5-FU (10μM)</text>
<text x="289.45" y="777.4" font-size="20.5" text-anchor="end" transform="rotate(-45 289.45 777.4)">MR + DMSO</text>
<text x="329.7" y="777.4" font-size="20.5" text-anchor="end" transform="rotate(-45 329.7 777.4)">MR + 5-FU (3.4μM)</text>
<text x="369.95" y="777.4" font-size="20.5" text-anchor="end" transform="rotate(-45 369.95 777.4)">MR + 5-FU (10μM)</text>
<line x1="570" y1="545.3" x2="570" y2="650.6" stroke="#000" stroke-width="2" stroke-linecap="butt"/>
<line x1="570" y1="672.5" x2="570" y2="755.2" stroke="#000" stroke-width="2" stroke-linecap="butt"/>
<line x1="566.6" y1="754.2" x2="800" y2="754.2" stroke="#000" stroke-width="2.2" stroke-linecap="butt"/>
<line x1="564.4" y1="546.3" x2="570" y2="546.3" stroke="#000" stroke-width="2" stroke-linecap="butt"/>
<text x="560.2" y="556.4" font-size="21" text-anchor="end" font-weight="normal" fill="#000">30</text>
<line x1="564.4" y1="580.73" x2="570" y2="580.73" stroke="#000" stroke-width="2" stroke-linecap="butt"/>
<text x="560.2" y="590.83" font-size="21" text-anchor="end" font-weight="normal" fill="#000">25</text>
<line x1="564.4" y1="615.17" x2="570" y2="615.17" stroke="#000" stroke-width="2" stroke-linecap="butt"/>
<text x="560.2" y="625.27" font-size="21" text-anchor="end" font-weight="normal" fill="#000">20</text>
<line x1="564.4" y1="649.6" x2="570" y2="649.6" stroke="#000" stroke-width="2" stroke-linecap="butt"/>
<text x="560.2" y="659.7" font-size="21" text-anchor="end" font-weight="normal" fill="#000">15</text>
<line x1="564.4" y1="673.5" x2="570" y2="673.5" stroke="#000" stroke-width="2" stroke-linecap="butt"/>
<text x="560.2" y="682.6" font-size="21" text-anchor="end" font-weight="normal" fill="#000">0.6</text>
<line x1="564.4" y1="713.85" x2="570" y2="713.85" stroke="#000" stroke-width="2" stroke-linecap="butt"/>
<text x="560.2" y="722.95" font-size="21" text-anchor="end" font-weight="normal" fill="#000">0.3</text>
<line x1="564.4" y1="754.2" x2="570" y2="754.2" stroke="#000" stroke-width="2" stroke-linecap="butt"/>
<text x="565" y="763.3" font-size="21" text-anchor="end" font-weight="normal" fill="#000">0</text>
<rect x="575.3" y="586.5" width="25.8" height="167.7" fill="#ffffff" stroke="#000" stroke-width="2.2"/>
<rect x="614" y="587.3" width="25.8" height="166.9" fill="#27e0f2" stroke="#000" stroke-width="2.2"/>
<rect x="652.7" y="586.5" width="25.8" height="167.7" fill="#27e0f2" stroke="#000" stroke-width="2.2"/>
<rect x="691.4" y="745.46" width="25.8" height="8.74" fill="#f0102a" stroke="#000" stroke-width="2.2"/>
<rect x="730.1" y="722.59" width="25.8" height="31.61" fill="#2244ee" stroke="#000" stroke-width="2.2"/>
<rect x="768.8" y="695.02" width="25.8" height="59.18" fill="#0d0df0" stroke="#000" stroke-width="2.2"/>
<circle cx="585.7" cy="581.5" r="3.1" fill="#000" stroke="none" stroke-width="0"/>
<circle cx="592.3" cy="586.5" r="3.1" fill="#000" stroke="none" stroke-width="0"/>
<circle cx="588.1" cy="597.3" r="3.1" fill="#000" stroke="none" stroke-width="0"/>
<circle cx="627" cy="580.5" r="3.1" fill="#000" stroke="none" stroke-width="0"/>
<circle cx="630.8" cy="589.1" r="3.1" fill="#000" stroke="none" stroke-width="0"/>
<circle cx="623.5" cy="596.4" r="3.1" fill="#000" stroke="none" stroke-width="0"/>
<circle cx="665.8" cy="580.2" r="3.1" fill="#000" stroke="none" stroke-width="0"/>
<circle cx="662" cy="591.2" r="3.1" fill="#000" stroke="none" stroke-width="0"/>
<circle cx="668.9" cy="589.8" r="3.1" fill="#000" stroke="none" stroke-width="0"/>
<circle cx="697" cy="744" r="3.1" fill="#000" stroke="none" stroke-width="0"/>
<circle cx="703" cy="744.5" r="3.1" fill="#000" stroke="none" stroke-width="0"/>
<circle cx="709" cy="744" r="3.1" fill="#000" stroke="none" stroke-width="0"/>
<circle cx="713" cy="745" r="3.1" fill="#000" stroke="none" stroke-width="0"/>
<circle cx="743.3" cy="699.8" r="3.1" fill="#000" stroke="none" stroke-width="0"/>
<circle cx="743.3" cy="728" r="3.1" fill="#000" stroke="none" stroke-width="0"/>
<circle cx="743.3" cy="740.6" r="3.1" fill="#000" stroke="none" stroke-width="0"/>
<circle cx="782" cy="687.7" r="3.1" fill="#000" stroke="none" stroke-width="0"/>
<circle cx="778" cy="700.5" r="3.1" fill="#000" stroke="none" stroke-width="0"/>
<circle cx="785.5" cy="700.5" r="3.1" fill="#000" stroke="none" stroke-width="0"/>
<line x1="588.2" y1="579.1" x2="588.2" y2="596.5" stroke="#000" stroke-width="2.5" stroke-linecap="butt"/>
<line x1="580.95" y1="579.1" x2="595.45" y2="579.1" stroke="#000" stroke-width="2.5" stroke-linecap="butt"/>
<line x1="580.95" y1="596.5" x2="595.45" y2="596.5" stroke="#000" stroke-width="2.5" stroke-linecap="butt"/>
<line x1="626.9" y1="579.1" x2="626.9" y2="595.4" stroke="#000" stroke-width="2.5" stroke-linecap="butt"/>
<line x1="619.65" y1="579.1" x2="634.15" y2="579.1" stroke="#000" stroke-width="2.5" stroke-linecap="butt"/>
<line x1="619.65" y1="595.4" x2="634.15" y2="595.4" stroke="#000" stroke-width="2.5" stroke-linecap="butt"/>
<line x1="665.6" y1="581.8" x2="665.6" y2="592.7" stroke="#000" stroke-width="2.5" stroke-linecap="butt"/>
<line x1="658.35" y1="581.8" x2="672.85" y2="581.8" stroke="#000" stroke-width="2.5" stroke-linecap="butt"/>
<line x1="658.35" y1="592.7" x2="672.85" y2="592.7" stroke="#000" stroke-width="2.5" stroke-linecap="butt"/>
<line x1="743" y1="702.4" x2="743" y2="743.5" stroke="#000" stroke-width="2.5" stroke-linecap="butt"/>
<line x1="735.75" y1="702.4" x2="750.25" y2="702.4" stroke="#000" stroke-width="2.5" stroke-linecap="butt"/>
<line x1="735.75" y1="743.5" x2="750.25" y2="743.5" stroke="#000" stroke-width="2.5" stroke-linecap="butt"/>
<line x1="781.7" y1="688.4" x2="781.7" y2="701" stroke="#000" stroke-width="2.5" stroke-linecap="butt"/>
<line x1="774.45" y1="688.4" x2="788.95" y2="688.4" stroke="#000" stroke-width="2.5" stroke-linecap="butt"/>
<line x1="774.45" y1="701" x2="788.95" y2="701" stroke="#000" stroke-width="2.5" stroke-linecap="butt"/>
<line x1="588.2" y1="754.2" x2="588.2" y2="758.7" stroke="#000" stroke-width="2" stroke-linecap="butt"/>
<line x1="626.9" y1="754.2" x2="626.9" y2="758.7" stroke="#000" stroke-width="2" stroke-linecap="butt"/>
<line x1="665.6" y1="754.2" x2="665.6" y2="758.7" stroke="#000" stroke-width="2" stroke-linecap="butt"/>
<line x1="704.3" y1="754.2" x2="704.3" y2="758.7" stroke="#000" stroke-width="2" stroke-linecap="butt"/>
<line x1="743" y1="754.2" x2="743" y2="758.7" stroke="#000" stroke-width="2" stroke-linecap="butt"/>
<line x1="781.7" y1="754.2" x2="781.7" y2="758.7" stroke="#000" stroke-width="2" stroke-linecap="butt"/>
<text x="487" y="635.3" font-size="20.5" text-anchor="middle" transform="rotate(-90 487 635.3)">M+1 methionine</text>
<text x="510" y="634.4" font-size="20.8" text-anchor="middle" transform="rotate(-90 510 634.4)">MS intensity (×10<tspan font-size="15" dy="-6">6</tspan><tspan dy="6">)</tspan></text>
<text x="0" y="7.53" font-size="15" font-weight="bold" text-anchor="middle" fill="#e80c24" transform="translate(704.6 726.8) rotate(0)">*</text>
<text x="783.2" y="675.78" font-size="21" text-anchor="middle" font-weight="normal" fill="#e80c24" stroke="#e80c24" stroke-width="0.6">#</text>
<text x="600.3" y="772.5" font-size="20.5" text-anchor="end" transform="rotate(-45 600.3 772.5)">Control + DMSO</text>
<text x="639" y="772.5" font-size="20.5" text-anchor="end" transform="rotate(-45 639 772.5)">Control + 5-FU (3.4μM)</text>
<text x="677.7" y="772.5" font-size="20.5" text-anchor="end" transform="rotate(-45 677.7 772.5)">Control + 5-FU (10μM)</text>
<text x="716.4" y="772.5" font-size="20.5" text-anchor="end" transform="rotate(-45 716.4 772.5)">MR + DMSO</text>
<text x="755.1" y="772.5" font-size="20.5" text-anchor="end" transform="rotate(-45 755.1 772.5)">MR + 5-FU (3.4μM)</text>
<text x="793.8" y="772.5" font-size="20.5" text-anchor="end" transform="rotate(-45 793.8 772.5)">MR + 5-FU (10μM)</text>
</svg>
</body></html>
